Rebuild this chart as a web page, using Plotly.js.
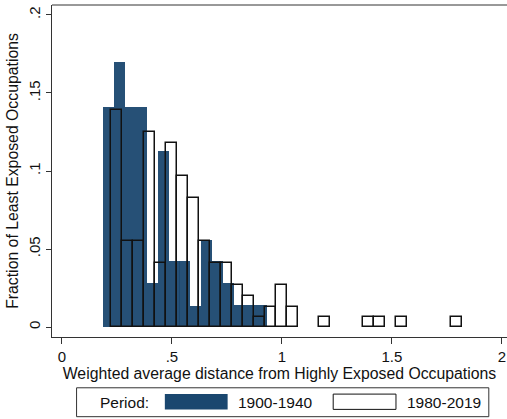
<!DOCTYPE html>
<html>
<head>
<meta charset="utf-8">
<script src="https://cdn.plot.ly/plotly-3.0.1.min.js"></script>
<style>body{margin:0;background:#fff}#chart{width:507px;height:419px}</style>
</head>
<body>
<div id="chart"></div>
<script>
// 1900-1940 histogram (bin centres, fractions)
var earlyX = [0.213, 0.262, 0.312, 0.361, 0.411, 0.460, 0.510, 0.559, 0.609, 0.658, 0.708, 0.757, 0.807, 0.856, 0.906];
var earlyY = [0.141, 0.170, 0.141, 0.141, 0.028, 0.113, 0.042, 0.042, 0.0135, 0.056, 0.042, 0.028, 0.014, 0.014, 0.014];
var earlyW = 0.0495;

// 1980-2019 histogram
var lateX = [0.249, 0.299, 0.349, 0.398, 0.448, 0.498, 0.548, 0.598, 0.647, 0.697, 0.747, 0.797, 0.847, 0.896, 0.946, 0.996, 1.046,
             1.195, 1.394, 1.444, 1.544, 1.793];
var lateY = [0.139, 0.055, 0.055, 0.125, 0.041, 0.118, 0.097, 0.083, 0.055, 0.041, 0.041, 0.027, 0.020, 0.0066, 0.013, 0.027, 0.013,
             0.0066, 0.0066, 0.0066, 0.0066, 0.0066];
var lateW = 0.0498;

var xTicks = [0, 0.5, 1, 1.5, 2];
var xLabels = ['0', '.5', '1', '1.5', '2'];
var yTicks = [0, 0.05, 0.1, 0.15, 0.2];
var yLabels = ['0', '.05', '.1', '.15', '.2'];

var navy = '#1a476f';
var font = 'Liberation Sans, Arial, sans-serif';

var data = [
    {
        type: 'bar', x: earlyX, y: earlyY, width: earlyW, name: '1900-1940',
        marker: { color: navy, opacity: 0.95, line: { width: 0 } }, hoverinfo: 'x+y'
    },
    {
        type: 'bar', x: lateX, y: lateY, width: lateW, name: '1980-2019',
        marker: { color: 'rgba(0,0,0,0)', line: { color: '#111', width: 1.5 } }, hoverinfo: 'x+y'
    }
];

var layout = {
    width: 507, height: 419,
    margin: { l: 52, r: 0, t: 5, b: 82 },
    barmode: 'overlay',
    bargap: 0,
    showlegend: false,
    paper_bgcolor: '#fff', plot_bgcolor: '#fff',
    font: { family: font, size: 15, color: '#111' },
    xaxis: {
        range: [-0.045, 2.023], tickvals: xTicks, ticktext: xLabels,
        ticks: 'outside', ticklen: 6, tickcolor: '#333', showgrid: false, zeroline: false,
        showline: true, linecolor: '#333', linewidth: 1,
        tickfont: { size: 15 },
        title: { text: 'Weighted average distance from Highly Exposed Occupations', font: { size: 15.8 }, standoff: 0 }
    },
    yaxis: {
        range: [-0.0064, 0.2064], tickvals: yTicks, ticktext: yLabels, tickangle: -90,
        ticks: 'outside', ticklen: 5, tickcolor: '#333', showgrid: false, zeroline: false,
        showline: true, linecolor: '#333', linewidth: 1,
        tickfont: { size: 15 },
        title: { text: 'Fraction of Least Exposed Occupations', font: { size: 15.8 }, standoff: 3 }
    },
    shapes: [
        // top frame line
        { type: 'line', xref: 'paper', yref: 'paper', x0: 0, x1: 1, y0: 1, y1: 1, line: { color: '#333', width: 1 } },
        // legend box
        { type: 'rect', xref: 'paper', yref: 'paper', x0: 0.054, x1: 0.960, y0: -0.153, y1: -0.240,
          line: { color: '#333', width: 1 }, fillcolor: '#fff' },
        { type: 'rect', xref: 'paper', yref: 'paper', x0: 0.248, x1: 0.386, y0: -0.172, y1: -0.218,
          line: { width: 0 }, fillcolor: navy },
        { type: 'rect', xref: 'paper', yref: 'paper', x0: 0.618, x1: 0.756, y0: -0.172, y1: -0.218,
          line: { color: '#111', width: 1 }, fillcolor: '#fff' }
    ],
    annotations: [
        { xref: 'paper', yref: 'paper', x: 0.101, y: -0.196, xanchor: 'left', yanchor: 'middle', showarrow: false, text: 'Period:', font: { size: 15.5 } },
        { xref: 'paper', yref: 'paper', x: 0.405, y: -0.196, xanchor: 'left', yanchor: 'middle', showarrow: false, text: '1900-1940', font: { size: 15.5 } },
        { xref: 'paper', yref: 'paper', x: 0.775, y: -0.196, xanchor: 'left', yanchor: 'middle', showarrow: false, text: '1980-2019', font: { size: 15.5 } }
    ]
};

Plotly.newPlot('chart', data, layout, { displayModeBar: false });
</script>
</body>
</html>
